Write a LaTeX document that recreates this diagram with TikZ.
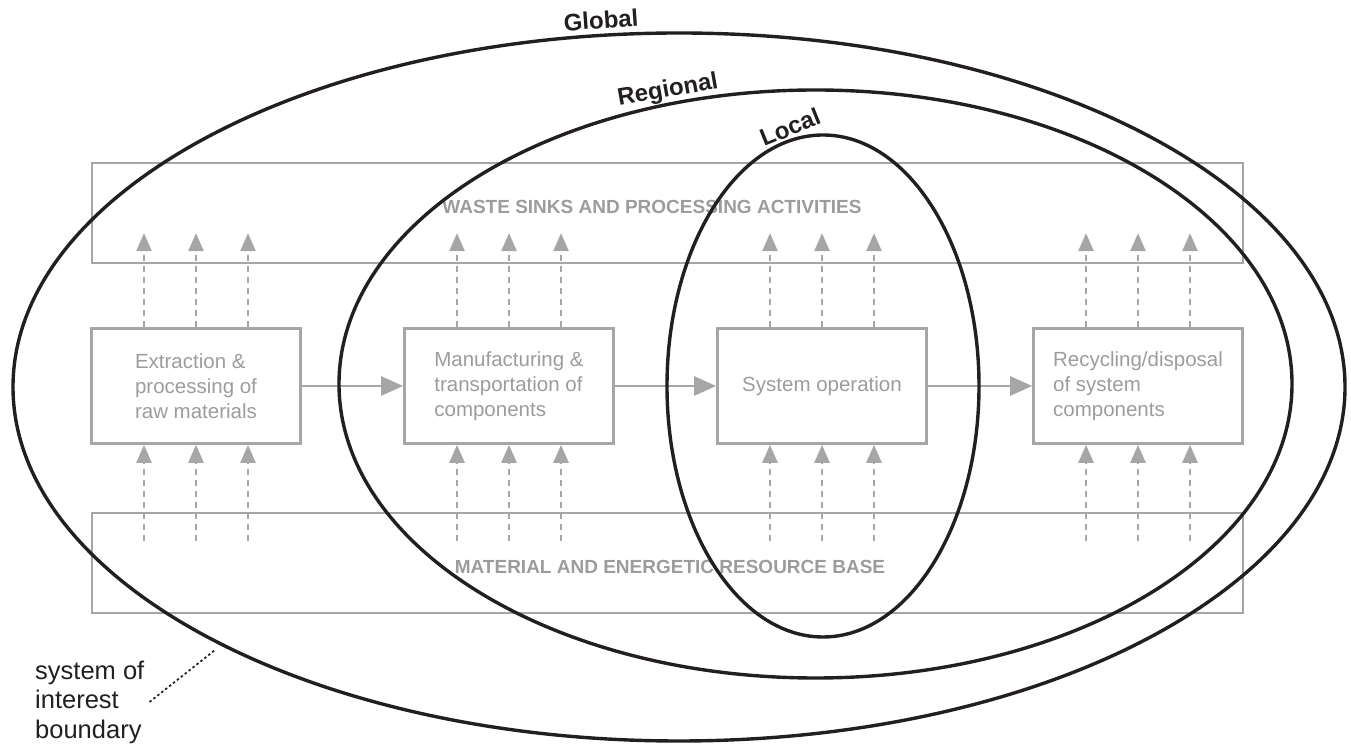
\documentclass[tikz,border=0pt]{standalone}
\usepackage{fontspec}
\setmainfont{Liberation Sans}
\usetikzlibrary{arrows.meta,calc,positioning}
\definecolor{boxgray}{RGB}{166,166,166}
\definecolor{txtgray}{RGB}{156,156,156}
\definecolor{ringblack}{RGB}{35,31,32}

\begin{document}
\begin{tikzpicture}[x=1pt,y=1pt,
  stage/.style={draw=boxgray,line width=2.7pt,minimum width=209pt,minimum height=115pt,inner sep=0pt,
    text=txtgray,align=left,font=\fontsize{20.5}{25}\selectfont},
  band/.style={draw=boxgray,line width=2.7pt,minimum width=1151pt,minimum height=100pt,inner sep=0pt},
  bandtext/.style={text=txtgray,font=\fontsize{19}{22}\selectfont\bfseries},
  flow/.style={draw=boxgray,line width=2.7pt,-{Triangle[length=22pt,width=19pt]}},
  side/.style={draw=boxgray,line width=2.7pt,dash pattern=on 6pt off 5pt,-{Triangle[length=18pt,width=15pt]}},
  ring/.style={draw=ringblack,line width=3.4pt},
  ringlabel/.style={text=ringblack,font=\fontsize{24}{28}\selectfont\bfseries}]
\useasboundingbox (0,0) rectangle (1351,746);

% sinks and resources
\node[band] (waste) at (667.5,533) {};
\node[band] (base) at (667.5,183) {};
\node[bandtext] (wastetxt) at (652,539) {WASTE SINKS AND PROCESSING ACTIVITIES};
\node[bandtext] (basetxt) at (670,179) {MATERIAL AND ENERGETIC RESOURCE BASE};

% life cycle stages
\node[stage] (extract) at (196,360) {Extraction \&\\processing of\\raw materials};
\node[stage] (manufact) at (509,360) {Manufacturing \&\\transportation of\\components};
\node[stage] (operate) at (822,360) {System operation};
\node[stage] (recycle) at (1138,360) {Recycling/disposal\\of system\\components};

\draw[flow] (extract) -- (manufact);
\draw[flow] (manufact) -- (operate);
\draw[flow] (operate) -- (recycle);

\foreach \s in {extract,manufact,operate,recycle}{
  \foreach \dx in {-52,0,52}{
    \draw[side] ([xshift=\dx pt]\s.north) -- ++(0,94);
    \draw[side] ([xshift=\dx pt,yshift=-96pt]\s.south) -- ([xshift=\dx pt]\s.south);
  }
}

% boundaries
\draw[ring] (679,359) ellipse [x radius=666pt,y radius=354pt];
\draw[ring] (815.5,362) ellipse [x radius=476.5pt,y radius=294pt];
\draw[ring] (823,360) ellipse [x radius=156pt,y radius=251pt];
\node[ringlabel,rotate=4] (globallbl) at (601,726) {Global};
\node[ringlabel,rotate=10] (regionallbl) at (668,655) {Regional};
\node[ringlabel,rotate=22] (locallbl) at (790,619) {Local};

\node[text=ringblack,font=\fontsize{25.5}{29.5}\selectfont,align=left,anchor=west,inner sep=0pt] (soi) at (35,44) {system of\\interest\\boundary};
\coordinate (bnd) at (215,96);
\draw[ringblack,line width=1.7pt,dash pattern=on 2.5pt off 2.5pt] ([xshift=5pt]soi.east) -- (bnd);
\end{tikzpicture}
\end{document}
